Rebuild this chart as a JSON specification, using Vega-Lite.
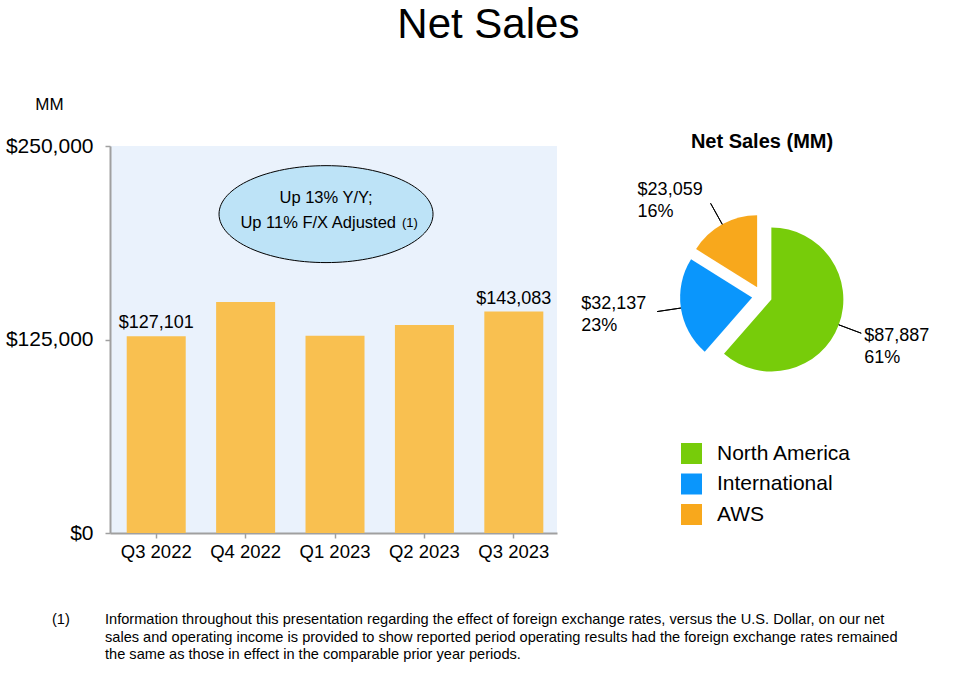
{
  "$schema": "https://vega.github.io/schema/vega-lite/v6.json",
  "padding": {"left": 5, "top": 4, "right": 5, "bottom": 5},
  "background": "white",
  "title": {"text": "Net Sales", "fontSize": 42, "fontWeight": "normal", "anchor": "middle", "color": "black", "offset": 48, "dx": 21},
  "bounds": "flush",
  "columns": 2,
  "spacing": {"row": 87, "column": 75},
  "concat": [
    {
      "width": 447,
      "height": 387,
      "view": {"fill": "#EAF2FC", "stroke": null},
      "data": {"values": [
        {"quarter": "Q3 2022", "sales": 127101},
        {"quarter": "Q4 2022", "sales": 149204},
        {"quarter": "Q1 2023", "sales": 127358},
        {"quarter": "Q2 2023", "sales": 134383},
        {"quarter": "Q3 2023", "sales": 143083}
      ]},
      "encoding": {
        "x": {"field": "quarter", "type": "nominal", "sort": null,
              "scale": {"paddingInner": 0.34, "paddingOuter": 0.17, "align": 0.55},
              "axis": {"title": null, "labelAngle": 0, "labelFontSize": 18.5, "labelPadding": 4, "tickSize": 5, "domainWidth": 2, "domainColor": "#A0A0A0", "tickColor": "#A0A0A0", "tickWidth": 1.5}},
        "y": {"field": "sales", "type": "quantitative",
              "scale": {"domain": [0, 250000], "nice": false},
              "axis": {"values": [0, 125000, 250000], "format": "$,.0f", "grid": false, "labelFontSize": 21, "labelPadding": 12, "tickSize": 5, "domainWidth": 2, "domainColor": "#A0A0A0", "tickColor": "#A0A0A0", "tickWidth": 1.5,
                       "title": "MM", "titleAngle": 0, "titleFontSize": 17, "titleFontWeight": "normal", "titleAlign": "center", "titleBaseline": "middle", "titleX": -61, "titleY": -42}}
      },
      "layer": [
        {"mark": {"type": "bar", "color": "#F9C050"}},
        {
          "transform": [{"filter": "datum.quarter === 'Q3 2022' || datum.quarter === 'Q3 2023'"}],
          "mark": {"type": "text", "fontSize": 18, "baseline": "alphabetic", "dy": -8, "color": "black"},
          "encoding": {"text": {"field": "sales", "type": "quantitative", "format": "$,.0f"}}
        },
        {
          "transform": [{"filter": "datum.quarter === 'Q1 2023'"}],
          "mark": {"type": "point", "shape": "M 1 0 C 1 0.25 0.5523 0.453 0 0.453 C -0.5523 0.453 -1 0.25 -1 0 C -1 -0.25 -0.5523 -0.453 0 -0.453 C 0.5523 -0.453 1 -0.25 1 0 Z", "size": 45796, "filled": true, "fill": "#BDE3F7", "stroke": "black", "strokeWidth": 1, "opacity": 1, "xOffset": -9},
          "encoding": {"y": {"datum": 206000}}
        },
        {
          "transform": [{"filter": "datum.quarter === 'Q1 2023'"}],
          "mark": {"type": "text", "fontSize": 16.5, "align": "center", "baseline": "middle", "dx": -9, "color": "black"},
          "encoding": {"y": {"datum": 216200}, "text": {"value": "Up 13% Y/Y;"}}
        },
        {
          "transform": [{"filter": "datum.quarter === 'Q1 2023'"}],
          "mark": {"type": "text", "fontSize": 16.5, "align": "right", "baseline": "middle", "dx": 61, "color": "black"},
          "encoding": {"y": {"datum": 200300}, "text": {"value": "Up 11% F/X Adjusted"}}
        },
        {
          "transform": [{"filter": "datum.quarter === 'Q1 2023'"}],
          "mark": {"type": "text", "fontSize": 13, "align": "left", "baseline": "middle", "dx": 67, "color": "black"},
          "encoding": {"y": {"datum": 200300}, "text": {"value": "(1)"}}
        }
      ]
    },
    {
      "width": 260,
      "height": 300,
      "title": {"text": "Net Sales (MM)", "fontSize": 20, "fontWeight": "bold", "baseline": "middle", "offset": -16, "anchor": "middle", "color": "black"},
      "data": {"values": [
        {"region": "North America", "sales": 87887, "pct": "61%"},
        {"region": "International", "sales": 32137, "pct": "23%"},
        {"region": "AWS", "sales": 23059, "pct": "16%"}
      ]},
      "transform": [
        {"joinaggregate": [{"op": "sum", "field": "sales", "as": "total"}]},
        {"stack": "sales", "groupby": [], "sort": [{"field": "region", "order": "descending"}], "as": ["s0", "s1"]}
      ],
      "layer": [
        {
          "mark": {"type": "arc", "outerRadius": 72,
                   "xOffset": {"expr": "10*sin(PI*(datum.s0+datum.s1)/datum.total)"},
                   "yOffset": {"expr": "-10*cos(PI*(datum.s0+datum.s1)/datum.total)"}},
          "encoding": {
            "theta": {"field": "s0", "type": "quantitative"},
            "theta2": {"field": "s1"},
            "color": {"field": "region", "type": "nominal",
                      "scale": {"domain": ["North America", "International", "AWS"], "range": ["#77CC0A", "#0A96FC", "#F8A81C"]},
                      "legend": {"orient": "none", "legendX": 571, "legendY": 297, "title": null, "symbolType": "square", "symbolSize": 441, "symbolStrokeWidth": 0, "symbolOpacity": 1, "labelFontSize": 21, "labelOffset": 15, "rowPadding": 8.5, "padding": 0, "labelColor": "black"}}
          }
        },
        {
          "mark": {"type": "arc", "innerRadius": 82, "outerRadius": 106, "padAngle": 3, "stroke": "black", "strokeWidth": 1, "thetaOffset": 1, "theta2Offset": -1},
          "encoding": {
            "theta": {"field": "s0", "type": "quantitative"},
            "theta2": {"field": "s1"},
            "color": {"value": "transparent"}
          }
        },
        {
          "mark": {"type": "text", "radius": 106, "fontSize": 18, "align": "left", "baseline": "middle", "color": "black",
                   "dx": {"expr": "datum.region === 'North America' ? 3 : datum.region === 'International' ? -76 : -73"},
                   "dy": {"expr": "datum.region === 'North America' ? 3 : datum.region === 'International' ? -8 : -13"}},
          "encoding": {
            "theta": {"field": "sales", "type": "quantitative", "stack": true},
            "order": {"field": "region", "sort": "descending"},
            "text": {"field": "sales", "type": "quantitative", "format": "$,.0f"}
          }
        },
        {
          "mark": {"type": "text", "radius": 106, "fontSize": 18, "align": "left", "baseline": "middle", "color": "black",
                   "dx": {"expr": "datum.region === 'North America' ? 3 : datum.region === 'International' ? -76 : -73"},
                   "dy": {"expr": "datum.region === 'North America' ? 25 : datum.region === 'International' ? 14 : 9"}},
          "encoding": {
            "theta": {"field": "sales", "type": "quantitative", "stack": true},
            "order": {"field": "region", "sort": "descending"},
            "text": {"field": "pct", "type": "nominal"}
          }
        }
      ]
    },
    {
      "width": 447,
      "height": 36,
      "data": {"values": [
        {"col": "marker", "row": 1, "text": "(1)"},
        {"col": "body", "row": 1, "text": "Information throughout this presentation regarding the effect of foreign exchange rates, versus the U.S. Dollar, on our net"},
        {"col": "body", "row": 2, "text": "sales and operating income is provided to show reported period operating results had the foreign exchange rates remained"},
        {"col": "body", "row": 3, "text": "the same as those in effect in the comparable prior year periods."}
      ]},
      "mark": {"type": "text", "fontSize": 14.6, "align": "left", "baseline": "middle", "color": "black"},
      "encoding": {
        "x": {"field": "col", "type": "nominal", "scale": {"type": "point", "domain": ["marker", "body"], "range": [-58, -5], "padding": 0}, "axis": null},
        "y": {"field": "row", "type": "ordinal", "scale": {"type": "point", "range": [0, 35], "padding": 0}, "axis": null},
        "text": {"field": "text", "type": "nominal"}
      }
    }
  ],
  "config": {
    "font": "Liberation Sans",
    "view": {"stroke": null},
    "axis": {"labelColor": "black", "titleColor": "black", "labelFont": "Liberation Sans", "titleFont": "Liberation Sans"},
    "legend": {"labelFont": "Liberation Sans"},
    "title": {"font": "Liberation Sans"},
    "text": {"font": "Liberation Sans"}
  }
}
